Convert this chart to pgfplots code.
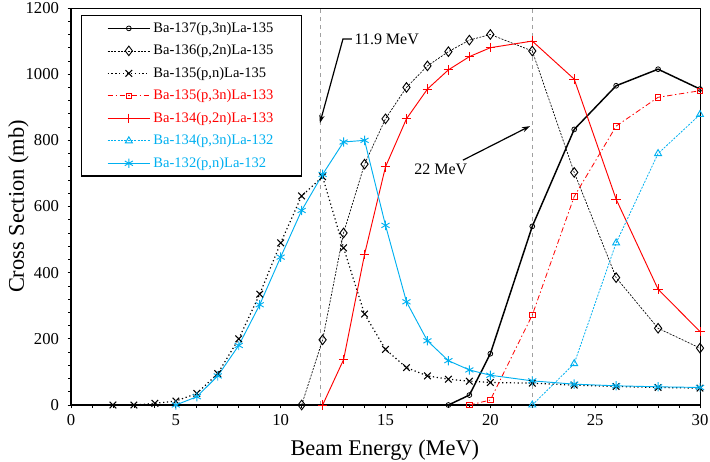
\documentclass[border=0pt]{standalone}
\usepackage{pgfplots}
\pgfplotsset{compat=1.18}
\usetikzlibrary{arrows.meta}
\usepackage{fontspec}
\setmainfont{Liberation Serif}
\definecolor{cyanx}{RGB}{0,176,240}
\definecolor{redx}{RGB}{255,0,0}
\definecolor{grayx}{RGB}{160,160,160}
\begin{document}
\begin{tikzpicture}
\begin{axis}[
  scale only axis, width=471.75pt, height=297.75pt,
  xmin=0, xmax=30, ymin=0, ymax=1200,
  xtick={0,5,...,30}, ytick={0,200,...,1200},
  minor x tick num=4, minor y tick num=4,
  tick align=outside, tick pos=left,
  major tick length=2.5pt, minor tick length=2pt,
  every tick/.style={black, line width=0.6pt},
  axis line style={line width=0.7pt},
  tick label style={font=\fontsize{12.5pt}{14pt}\selectfont},
  yticklabel style={xshift=-3pt},
  xticklabel style={yshift=-1pt},
  /pgf/number format/assume math mode=true,
  /pgf/number format/1000 sep={},
  xlabel={Beam Energy (MeV)}, ylabel={Cross Section (mb)},
  xlabel style={font=\fontsize{16.8pt}{20pt}\selectfont, at={(axis description cs:0.499,-0.113)}, anchor=center},
  ylabel style={font=\fontsize{16.8pt}{20pt}\selectfont, at={(axis description cs:-0.0835,0.5)}, anchor=center},
  legend style={at={(axis description cs:0.0159,0.982)}, anchor=north west,
    draw=black, line width=0.8pt, font=\fontsize{10.9pt}{13pt}\selectfont,
    row sep=3.8pt, inner xsep=19pt, inner ysep=3pt},
  legend cell align=left,
  legend image code/.code={\draw[mark repeat=2, mark phase=2, #1] plot coordinates {(0cm,0cm) (0.56cm,0cm) (1.12cm,0cm)};},
  clip=false,
]
\coordinate (sw) at (rel axis cs:0,0);
\coordinate (ne) at (rel axis cs:1,1);
\draw[grayx, dashed, line width=0.6pt] (axis cs:11.9,0) -- (axis cs:11.9,1200);
\draw[grayx, dashed, line width=0.6pt] (axis cs:22,0) -- (axis cs:22,1200);
\draw[black, line width=1.3pt] (rel axis cs:0,1) -- (rel axis cs:0,0) -- (rel axis cs:1,0);

% Ba-137(p,3n)La-135
\addplot[black, line width=1.1pt, mark=o, mark size=1.8pt, mark options={solid, line width=0.6pt}] coordinates {
(18,0) (19,30) (20,155) (22,540) (24,833) (26,965) (28,1015) (30,955)};
\addlegendentry{Ba-137(p,3n)La-135}
% Ba-136(p,2n)La-135
\addplot[black, dash pattern=on 1.5pt off 1pt, line width=0.5pt, mark=diamond, mark size=3.6pt, mark options={solid, line width=0.7pt}] coordinates {
(11,0) (12,197) (13,520) (14,728) (15,865) (16,960) (17,1025) (18,1068) (19,1103) (20,1120) (22,1070) (24,703) (26,385) (28,232) (30,172)};
\addlegendentry{Ba-136(p,2n)La-135}
% Ba-135(p,n)La-135
\addplot[black, dotted, line width=0.9pt, mark=x, mark size=3.5pt, mark options={solid, line width=0.8pt}] coordinates {
(2,0) (3,0) (4,5) (5,12) (6,35) (7,95) (8,200) (9,335) (10,490) (11,632) (12,690) (13,475) (14,275) (15,168) (16,113) (17,88) (18,78) (19,72) (20,68) (22,66) (24,60) (26,56) (28,53) (30,51)};
\addlegendentry{Ba-135(p,n)La-135}
% Ba-135(p,3n)La-133
\addplot[redx, dash pattern=on 4pt off 2pt on 1pt off 2pt, line width=0.6pt, mark=square, mark size=2.1pt, mark options={solid, line width=0.6pt}] coordinates {
(19,0) (20,15) (22,272) (24,630) (26,843) (28,930) (30,950)};
\addlegendentry{\textcolor{redx}{Ba-135(p,3n)La-133}}
% Ba-134(p,2n)La-133
\addplot[redx, line width=0.7pt, mark=+, mark size=3.6pt, mark options={solid, line width=0.7pt}] coordinates {
(12,0) (13,137) (14,455) (15,720) (16,865) (17,955) (18,1013) (19,1053) (20,1080) (22,1100) (24,985) (26,622) (28,350) (30,222)};
\addlegendentry{\textcolor{redx}{Ba-134(p,2n)La-133}}
% Ba-134(p,3n)La-132
\addplot[cyanx, dash pattern=on 1.5pt off 1pt, line width=0.6pt, mark=triangle, mark size=3pt, mark options={solid, line width=0.7pt}] coordinates {
(22,0) (24,125) (26,490) (28,760) (30,878)};
\addlegendentry{\textcolor{cyanx}{Ba-134(p,3n)La-132}}
% Ba-132(p,n)La-132
\addplot[cyanx, line width=0.7pt, mark=asterisk, mark size=3.5pt, mark options={solid, line width=0.7pt}] coordinates {
(5,0) (6,25) (7,88) (8,180) (9,303) (10,447) (11,588) (12,697) (13,795) (14,800) (15,543) (16,312) (17,194) (18,134) (19,106) (20,90) (22,73) (24,63) (26,58) (28,55) (30,53)};
\addlegendentry{\textcolor{cyanx}{Ba-132(p,n)La-132}}

\draw[black, line width=0.9pt, -{Stealth[length=6pt,width=4pt]}] (axis cs:13.4,1106) -- (axis cs:12.97,1106) -- (axis cs:11.87,852);
\node[anchor=west, inner sep=1pt, font=\fontsize{12pt}{14pt}\selectfont] at (axis cs:13.45,1106) {11.9 MeV};
\draw[black, line width=0.9pt, -{Stealth[length=6pt,width=4pt]}] (axis cs:18.69,740) -- (axis cs:21.89,843);
\node[inner sep=1pt, font=\fontsize{12pt}{14pt}\selectfont] at (axis cs:17.64,712) {22 MeV};
\end{axis}
\pgfresetboundingbox
\useasboundingbox ([shift={(-53.25pt,-42pt)}]sw) rectangle ([shift={(7.5pt,6pt)}]ne);
\end{tikzpicture}
\end{document}
